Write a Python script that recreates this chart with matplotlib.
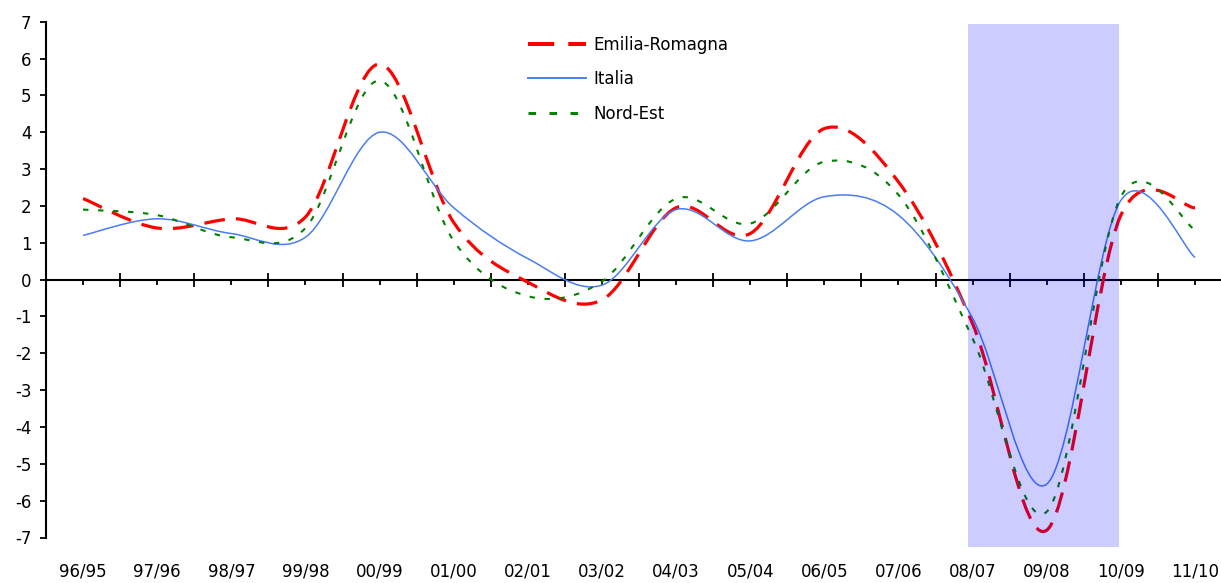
import numpy as np
import matplotlib
matplotlib.use("Agg")
import matplotlib.pyplot as plt
from matplotlib.path import Path
from matplotlib.patches import PathPatch, Rectangle
from matplotlib.lines import Line2D

plt.rcParams["axes.unicode_minus"] = False

# ── data: annual % changes, years shown as "yy/yy" ──────────────
years = ["96/95", "97/96", "98/97", "99/98", "00/99", "01/00", "02/01", "03/02",
         "04/03", "05/04", "06/05", "07/06", "08/07", "09/08", "10/09", "11/10"]
emilia = [2.2, 1.4, 1.65, 1.7, 5.85, 1.55, -0.07, -0.55,
          1.95, 1.25, 4.1, 2.65, -1.2, -6.8, 1.75, 1.95]
italia = [1.2, 1.65, 1.25, 1.15, 4.0, 1.95, 0.57, -0.15,
          1.9, 1.05, 2.25, 1.75, -1.05, -5.55, 2.15, 0.6]
nordest = [1.9, 1.75, 1.15, 1.4, 5.4, 1.05, -0.45, -0.05,
           2.2, 1.52, 3.2, 2.3, -1.6, -6.3, 2.25, 1.35]

# shaded recession band (first / last category)
recession = ("08/07", "10/09")

RED = "#ff0000"
BLUE = "#4a7cf5"
GREEN = "#008000"


def smooth_path(x, y):
    """Excel-like smoothed line: Catmull-Rom control points -> cubic Bezier."""
    x = np.asarray(x, float)
    y = np.asarray(y, float)
    n = len(x)
    verts = [(x[0], y[0])]
    codes = [Path.MOVETO]
    for i in range(n - 1):
        p0 = i - 1 if i > 0 else 0
        p3 = i + 2 if i + 2 < n else n - 1
        c1 = (x[i] + (x[i + 1] - x[p0]) / 6, y[i] + (y[i + 1] - y[p0]) / 6)
        c2 = (x[i + 1] - (x[p3] - x[i]) / 6, y[i + 1] - (y[p3] - y[i]) / 6)
        verts += [c1, c2, (x[i + 1], y[i + 1])]
        codes += [Path.CURVE4] * 3
    return Path(verts, codes)


W, H = 1221, 583
fig = plt.figure(figsize=(W / 100, H / 100), dpi=100)
ax = fig.add_axes([46 / W, 1 - 537.5 / H, 1 - 46 / W, (537.5 - 21.7) / H])

xs = np.arange(len(years))

series = [
    ("Emilia-Romagna", emilia, RED, 2.3, (0, (6.5, 3.5))),
    ("Italia", italia, BLUE, 1.1, "-"),
    ("Nord-Est", nordest, GREEN, 1.5, (0, (2.6, 4.6))),
]
handles = []
for name, vals, col, lw, ls in series:
    ax.add_patch(PathPatch(smooth_path(xs, vals), fill=False, edgecolor=col,
                           lw=lw, linestyle=ls, zorder=3))
    handles.append(Line2D([], [], color=col, lw=lw + (0.6 if ls != "-" else 0.3),
                          linestyle=ls, label=name))

# recession band drawn on top, translucent blue
r0 = years.index(recession[0]) - 0.06
r1 = years.index(recession[1]) - 0.03
ax.add_patch(Rectangle((r0, -7.26), r1 - r0, 6.94 + 7.26, facecolor="blue",
                       alpha=0.2, edgecolor="none", zorder=5, clip_on=False))

# axes styling
for s in ["top", "right"]:
    ax.spines[s].set_visible(False)
ax.spines["bottom"].set_position(("data", 0))
ax.spines["bottom"].set_linewidth(1.5)
ax.spines["left"].set_linewidth(1.5)

ax.set_xticks(np.arange(len(years) + 1) - 0.5)
ax.set_xticks(xs, minor=True)
ax.tick_params(axis="x", which="major", direction="inout", length=10, width=1.3,
               labelbottom=False)
ax.tick_params(axis="x", which="minor", direction="out", length=3.8, width=1.3,
               labelbottom=False)
ax.set_yticks(np.arange(-7, 8))
ax.tick_params(axis="y", direction="out", length=4.5, width=1.3, labelsize=12, pad=6)

# limits after ticks (set_xticks can widen the view)
ax.set_xlim(-0.5, -0.5 + (W - 46) / 74.13)
ax.set_ylim(-7, 7)

for i, lab in enumerate(years):
    ax.text(i, -7.91, lab, ha="center", va="center", fontsize=12, clip_on=False)

ax.legend(handles=handles, loc="upper left", bbox_to_anchor=(528 / W, 1 - 36 / H),
          bbox_transform=fig.transFigure, frameon=False, fontsize=12,
          handlelength=3.5, handletextpad=0.4, labelspacing=0.98,
          borderpad=0, borderaxespad=0)

fig.savefig("out.png", dpi=100)
